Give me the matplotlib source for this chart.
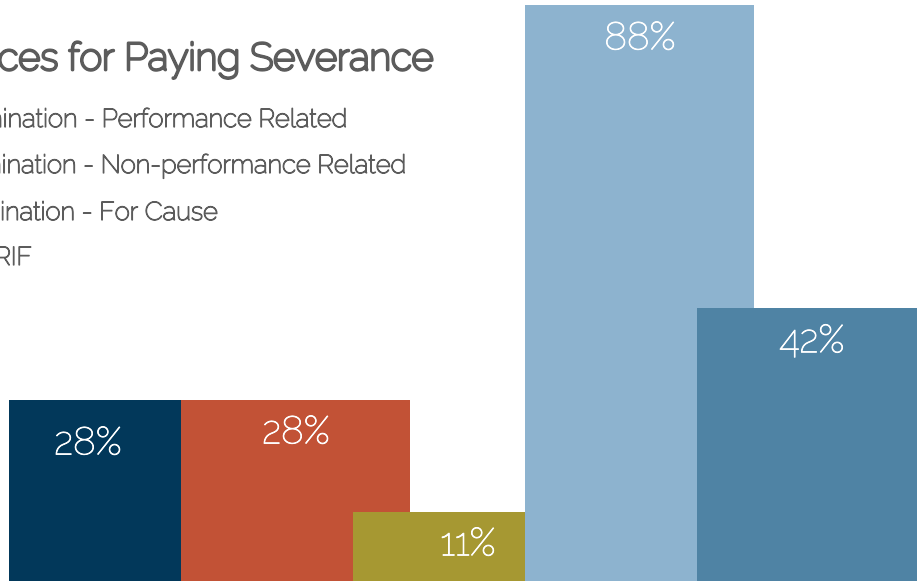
import matplotlib.pyplot as plt
from matplotlib import font_manager
import matplotlib.patheffects as pe

# severance survey results
categories = ["Termination - Performance Related",
              "Termination - Non-performance Related",
              "Termination - For Cause",
              "RIF",
              "Other"]
values = [28, 28, 11, 88, 42]
labels = ["28%", "28%", "11%", "88%", "42%"]
colors = ["#02385A", "#C25236", "#A69832", "#8DB3CF", "#4F83A4"]
title = "Circumstances for Paying Severance"

W, H = 917, 581
fig = plt.figure(figsize=(W / 100, H / 100), dpi=100)
ax = fig.add_axes([0, 0, 1, 1])

# overlapping columns, each one drawn over the previous
positions = list(range(len(values)))
bar_w = 1.331
for x, v, c in zip(positions, values, colors):
    ax.bar(x, v, width=bar_w, align="edge", color=c, linewidth=0)

ax.set_xlim(-0.055, -0.055 + W / 172)
ax.set_ylim(0.5, 88.76)
ax.axis("off")

# Raleway ships as a thin variable font here, so weight comes from a stroke
names = [f.name for f in font_manager.fontManager.ttflist]
font = "Raleway" if "Raleway" in names else "Lato"

def weight(lw, color):
    return [pe.withStroke(linewidth=lw, foreground=color)]

# value labels inside the column tops
label_dx = [-36, 0, 0, 0, 0]
label_dy = [44, 33, 33, 34, 34]
for x, v, t, dx, dy in zip(positions, values, labels, label_dx, label_dy):
    ax.annotate(t, xy=(x + bar_w / 2, v), xytext=(dx, -dy),
                textcoords="offset pixels", ha="center", va="center",
                color="white", fontsize=28, family=font,
                path_effects=weight(0.6, "white"))

gray = "#5C5C5C"
fig.text(435 / W, 1 - 70 / H, title, ha="right", va="baseline",
         fontsize=27.5, color=gray, family=font,
         path_effects=weight(2.0, gray))

legend_right = [347, 406, 218, 32]
legend_base = [127, 173, 220, 265]
for name, xr, yb in zip(categories[:4], legend_right, legend_base):
    fig.text(xr / W, 1 - yb / H, name, ha="right", va="baseline",
             fontsize=18.5, color=gray, family=font,
             path_effects=weight(0.9, gray))

fig.savefig("out.png", dpi=100)
